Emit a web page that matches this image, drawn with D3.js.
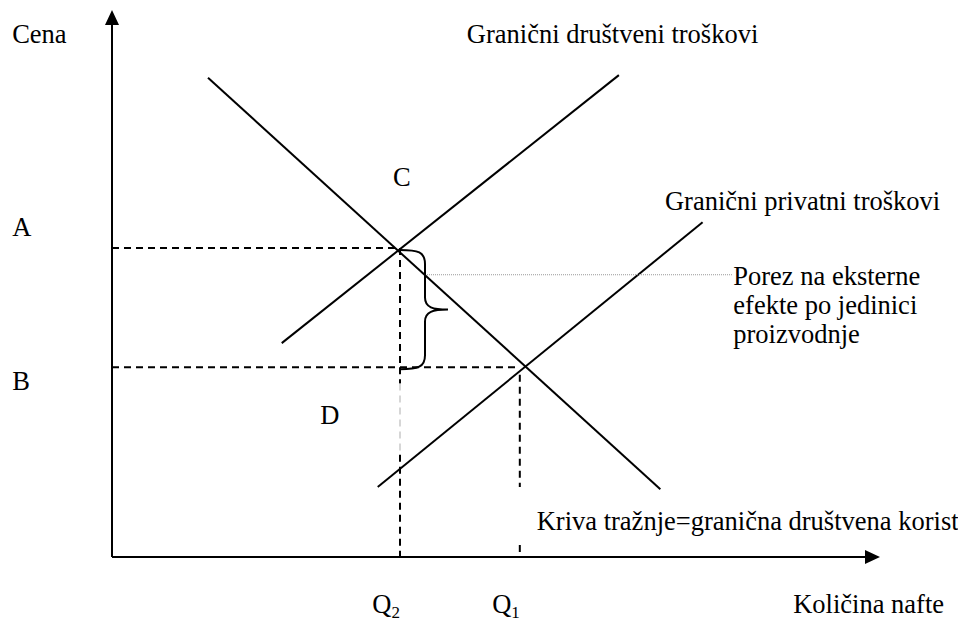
<!DOCTYPE html>
<html><head><meta charset="utf-8">
<script src="https://cdn.jsdelivr.net/npm/d3@7"></script>
<style>body{margin:0;background:#fff}svg{display:block}text{font-family:"Liberation Serif","Times New Roman",serif;font-size:26.5px;fill:#000}</style>
</head><body>
<svg id="c" width="958" height="623"></svg>
<script>
// Data (quantity 0-100, price 0-100)
const demand = [[12.5, 87.6], [71.4, 12.4]];
const socialCost = [[22.1, 39.1], [66.0, 88.1]];
const privateCost = [[34.6, 12.8], [76.9, 61.2]];
const Q2 = 37.5, Q1 = 53.1;
const priceA = 56.5, priceB = 34.7;
const taxLineY = 51.6;
const labels = [
  {t:"Cena", x:-13, y:94.0},
  {t:"Granični društveni troškovi", x:46.2, y:94.0},
  {t:"C", x:36.6, y:67.8},
  {t:"A", x:-13, y:58.7},
  {t:"Granični privatni troškovi", x:72.0, y:63.4},
  {t:"Porez na eksterne", x:80.9, y:49.7},
  {t:"efekte po jedinici", x:80.9, y:44.4},
  {t:"proizvodnje", x:80.9, y:39.1},
  {t:"B", x:-13, y:30.5},
  {t:"D", x:27.1, y:24.3},
  {t:"Kriva tražnje=granična društvena korist", x:55.3, y:4.9},
  {t:"Količina nafte", x:88.7, y:-10.2}
];
const qLabels = [{t:"Q", sub:"2", x:Q2 - 3.6}, {t:"Q", sub:"1", x:Q1 - 3.6}];

const svg = d3.select("#c");
const x = d3.scaleLinear().domain([0,100]).range([112,880]);
const y = d3.scaleLinear().domain([0,100]).range([557,10]);
const line = d3.line().x(d=>x(d[0])).y(d=>y(d[1]));

// axes
svg.append("line").attr("x1",x(0)).attr("y1",y(0)).attr("x2",x(0)).attr("y2",y(100)+12).attr("stroke","#000").attr("stroke-width",2);
svg.append("path").attr("d",`M${x(0)},${y(100)} L${x(0)-7},${y(100)+15} L${x(0)+7},${y(100)+15}Z`).attr("fill","#000");
svg.append("line").attr("x1",x(0)).attr("y1",y(0)).attr("x2",x(100)-12).attr("y2",y(0)).attr("stroke","#000").attr("stroke-width",2);
svg.append("path").attr("d",`M${x(100)},${y(0)} L${x(100)-15},${y(0)-7} L${x(100)-15},${y(0)+7}Z`).attr("fill","#000");

// curves
[demand, socialCost, privateCost].forEach(d=>{
  svg.append("path").attr("d",line(d)).attr("fill","none").attr("stroke","#000").attr("stroke-width",2);
});

// dashed guides
const dash = "7,5";
const dl = (x1,y1,x2,y2,col)=>svg.append("line").attr("x1",x(x1)).attr("y1",y(y1)).attr("x2",x(x2)).attr("y2",y(y2))
  .attr("stroke",col||"#000").attr("stroke-width",2).attr("stroke-dasharray",dash);
dl(0,priceA,Q2,priceA);
dl(0,priceB,Q1,priceB);
dl(Q2,priceA,Q2,priceB);
dl(Q2,priceB,Q2,31.7);
dl(Q2,31.7,Q2,18.7,"#bbb").attr("stroke-width",1.2);
dl(Q2,18.7,Q2,0);
dl(Q1,priceB-1.4,Q1,12.8);
dl(Q1,2.2,Q1,0);

// tax line
svg.append("line").attr("x1",x(Q2)+25).attr("y1",y(taxLineY)).attr("x2",x(80.9)-1).attr("y2",y(taxLineY))
  .attr("stroke","#999").attr("stroke-width",1).attr("stroke-dasharray","1,1");

// brace
const bx = x(Q2), yt = y(priceA)+2, yb = y(priceB)+2, ym = (yt+yb)/2;
const bw = 25, tip = 48;
svg.append("path").attr("d",
  `M${bx},${yt} C${bx+18},${yt} ${bx+bw},${yt+2} ${bx+bw},${yt+14} L${bx+bw},${ym-12} C${bx+bw},${ym-2} ${bx+bw+8},${ym} ${bx+tip},${ym}` +
  ` C${bx+bw+8},${ym} ${bx+bw},${ym+2} ${bx+bw},${ym+12} L${bx+bw},${yb-14} C${bx+bw},${yb-2} ${bx+18},${yb} ${bx},${yb}`)
  .attr("fill","none").attr("stroke","#000").attr("stroke-width",2);

// labels
svg.selectAll("text.l").data(labels).enter().append("text").attr("class","l")
  .attr("x",d=>x(d.x)).attr("y",d=>y(d.y)).text(d=>d.t);
const ql = svg.selectAll("text.q").data(qLabels).enter().append("text").attr("class","q")
  .attr("x",d=>x(d.x)).attr("y",y(-10.2));
ql.append("tspan").text(d=>d.t);
ql.append("tspan").attr("dy",5).style("font-size","17px").text(d=>d.sub);
</script>
</body></html>
